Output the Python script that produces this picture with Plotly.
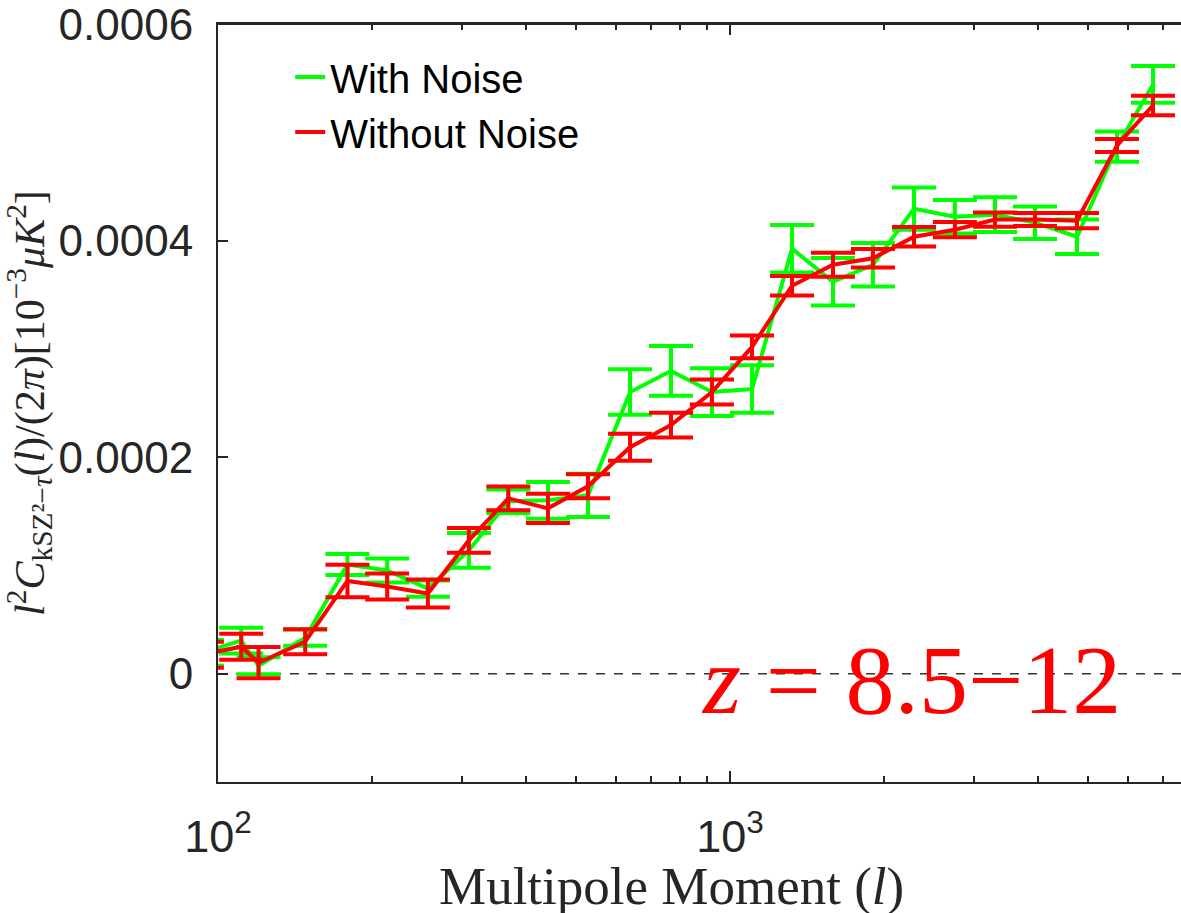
import plotly.graph_objects as go

# multipole bin centres
ell = [93, 111, 120, 148, 179, 214, 257, 309, 369, 441, 528, 638, 767, 922,
       1104, 1322, 1589, 1902, 2288, 2750, 3293, 3942, 4762, 5700, 6703]

with_noise = [1.94e-5, 3.06e-5, 0.74e-5, 3.33e-5, 1.009e-4, 9.54e-5, 7.87e-5, 1.139e-4,
              1.593e-4, 1.602e-4, 1.648e-4, 2.602e-4, 2.797e-4, 2.602e-4, 2.63e-4,
              3.926e-4, 3.621e-4, 3.778e-4, 4.296e-4, 4.222e-4, 4.241e-4, 4.167e-4,
              4.037e-4, 4.87e-4, 5.444e-4]
with_noise_err = [1.2e-5, 1.2e-5, 0.79e-5, 0.75e-5, 0.97e-5, 1.1e-5, 0.75e-5, 1.6e-5,
                  1.1e-5, 1.7e-5, 2.0e-5, 2.1e-5, 2.3e-5, 2.2e-5, 2.2e-5, 2.2e-5,
                  2.2e-5, 2.0e-5, 1.95e-5, 1.55e-5, 1.6e-5, 1.5e-5, 1.6e-5, 1.4e-5, 1.7e-5]

without_noise = [1.76e-5, 2.5e-5, 1.02e-5, 2.96e-5, 8.57e-5, 8.06e-5, 7.41e-5, 1.232e-4,
                 1.62e-4, 1.528e-4, 1.732e-4, 2.093e-4, 2.297e-4, 2.602e-4, 3.019e-4,
                 3.584e-4, 3.778e-4, 3.838e-4, 4.037e-4, 4.102e-4, 4.195e-4, 4.195e-4,
                 4.185e-4, 4.88e-4, 5.25e-4]
without_noise_err = [1.2e-5, 1.2e-5, 1.44e-5, 1.15e-5, 1.5e-5, 1.2e-5, 1.3e-5, 1.15e-5,
                     1.1e-5, 1.35e-5, 1.1e-5, 1.25e-5, 1.15e-5, 1.15e-5, 1.05e-5, 0.9e-5,
                     1.1e-5, 0.85e-5, 0.9e-5, 0.7e-5, 0.65e-5, 0.6e-5, 0.7e-5, 0.6e-5, 0.9e-5]

y_tickvals = [0, 0.0002, 0.0004, 0.0006]
y_ticktext = ["0", "0.0002", "0.0004", "0.0006"]
x_tickvals = [100, 1000]
x_ticktext = ["10<sup>2</sup>", "10<sup>3</sup>"]
x_minor = [200, 300, 400, 500, 600, 700, 800, 900, 2000, 3000, 4000, 5000, 6000, 7000]

AX = "#262626"
X_RANGE = [2, 3.8809]
fig = go.Figure()
fig.add_trace(go.Scatter(
    x=ell, y=with_noise, mode="lines", name="With Noise",
    line=dict(color="#00FF00", width=4),
    error_y=dict(type="data", array=with_noise_err, color="#00FF00", thickness=4, width=22),
))
fig.add_trace(go.Scatter(
    x=ell, y=without_noise, mode="lines", name="Without Noise",
    line=dict(color="#FF0000", width=4),
    error_y=dict(type="data", array=without_noise_err, color="#FF0000", thickness=4, width=22),
))
# empty trace so the top (mirror) axis with minor ticks is rendered
fig.add_trace(go.Scatter(x=[], y=[], xaxis="x2", yaxis="y", showlegend=False,
                         hoverinfo="skip"))

fig.add_shape(type="line", xref="paper", yref="y", x0=0, x1=1, y0=0, y1=0,
              line=dict(color="#333333", width=1.5, dash="dash"), layer="below")
# top frame line of the axes box
fig.add_shape(type="line", xref="paper", yref="paper", x0=0, x1=1, y0=1, y1=1,
              line=dict(color=AX, width=2), layer="above")

fig.add_annotation(text="<i>z</i> = 8.5−12", xref="paper", yref="paper",
                   x=0.7196, y=0.135, xanchor="center", yanchor="middle", showarrow=False,
                   font=dict(family="Liberation Serif", size=98, color="#FF0000"))

fig.add_annotation(text="Multipole Moment (<i>l</i>)", xref="paper", yref="paper",
                   x=0.471, y=-0.096, xanchor="center", yanchor="top", showarrow=False,
                   font=dict(family="Liberation Serif", size=53, color=AX))

fig.update_layout(
    width=1181, height=913,
    margin=dict(l=218, r=0, t=24, b=131),
    paper_bgcolor="white", plot_bgcolor="white",
    showlegend=True,
    legend=dict(x=0.075, y=0.973, xanchor="left", yanchor="top",
                bgcolor="rgba(0,0,0,0)", borderwidth=0,
                font=dict(family="Liberation Sans", size=40, color="black")),
    xaxis=dict(
        type="log", range=X_RANGE, showgrid=False, zeroline=False,
        showline=True, linecolor=AX, linewidth=2, mirror=True,
        ticks="inside", ticklen=11, tickwidth=1.5, tickcolor=AX,
        tickvals=x_tickvals, ticktext=x_ticktext, ticklabelstandoff=14,
        ticklabeloverflow="allow",
        tickfont=dict(family="Liberation Sans", size=45, color=AX),
        minor=dict(tickvals=x_minor, ticks="inside", ticklen=6, tickwidth=1.5, tickcolor=AX),
    ),
    xaxis2=dict(
        type="log", range=X_RANGE, overlaying="x", side="top", anchor="y",
        showgrid=False, zeroline=False, showline=True, linecolor=AX, linewidth=2,
        ticks="inside", ticklen=11, tickwidth=1.5, tickcolor=AX,
        tickvals=x_tickvals, showticklabels=False,
        minor=dict(tickvals=x_minor, ticks="inside", ticklen=6, tickwidth=1.5, tickcolor=AX),
    ),
    yaxis=dict(
        range=[-0.0001, 0.0006002], showgrid=False, zeroline=False,
        showline=True, linecolor=AX, linewidth=2, mirror=False,
        ticks="inside", ticklen=10, tickwidth=1.5, tickcolor=AX,
        tickvals=y_tickvals, ticktext=y_ticktext, ticklabelstandoff=14,
        ticklabeloverflow="allow",
        tickfont=dict(family="Liberation Sans", size=44, color=AX),
        title=dict(
            text="<i>l</i><sup>2</sup><i>C</i><sub>kSZ²−<i>τ</i></sub>(<i>l</i>)/(2<i>π</i>)[10<sup>−3</sup><i>μK</i><sup>2</sup>]",
            font=dict(family="Liberation Serif", size=42, color=AX), standoff=2),
    ),
)

fig.write_html("out.html")
